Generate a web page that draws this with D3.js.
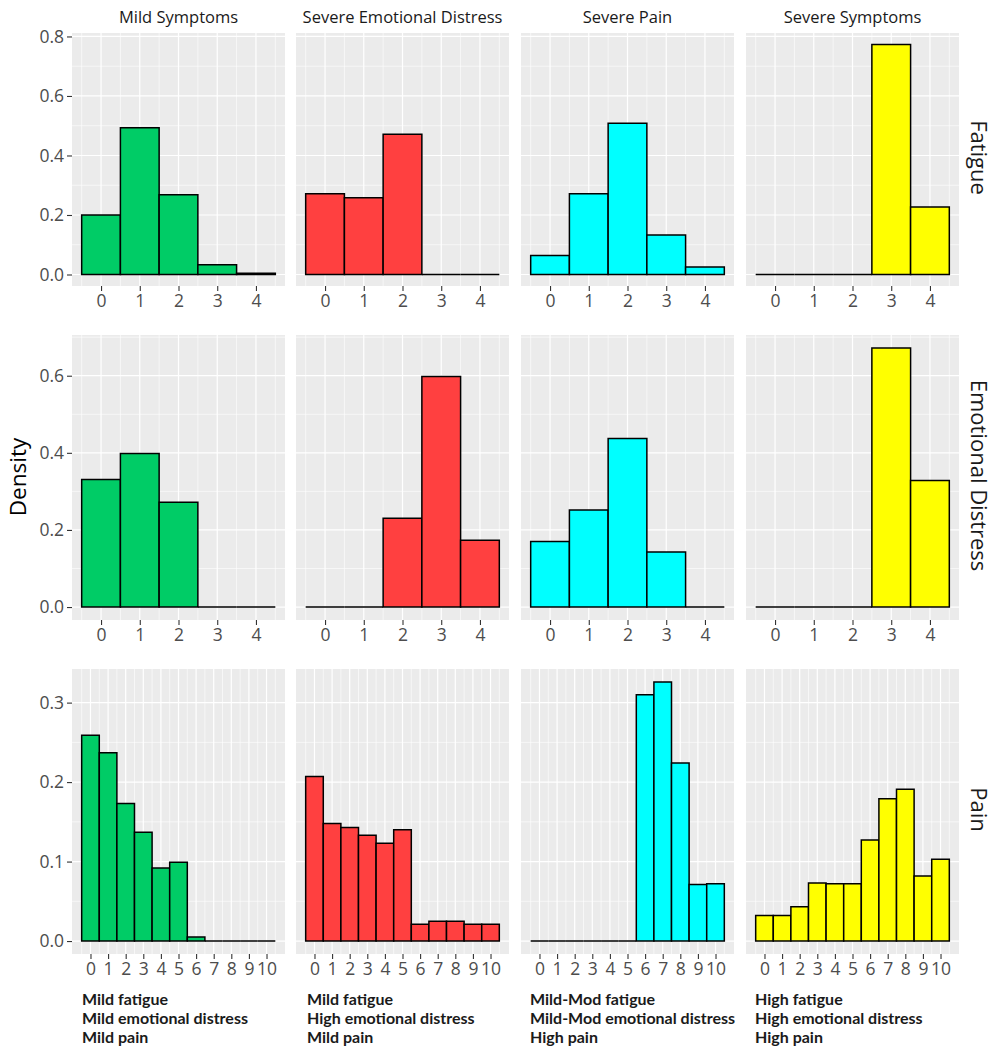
<!DOCTYPE html>
<html><head><meta charset="utf-8">
<script src="https://cdn.jsdelivr.net/npm/d3@7"></script>
<style>body{margin:0;background:#fff}</style>
</head><body><svg id="c" width="997" height="1050"></svg>
<script>
// ---- data ----
const clusters = ["Mild Symptoms", "Severe Emotional Distress", "Severe Pain", "Severe Symptoms"];
const symptoms = ["Fatigue", "Emotional Distress", "Pain"];
const clusterColors = ["#00CC66", "#FF4040", "#00FFFF", "#FFFF00"];
const scoreLevels5 = [0, 1, 2, 3, 4];
const scoreLevels11 = [0, 1, 2, 3, 4, 5, 6, 7, 8, 9, 10];

const fatigueMild      = [0.200, 0.493, 0.268, 0.033, 0.004];
const fatigueEmotional = [0.271, 0.258, 0.471, 0.000, 0.000];
const fatiguePain      = [0.064, 0.271, 0.508, 0.133, 0.025];
const fatigueSevere    = [0.000, 0.000, 0.000, 0.773, 0.227];

const emotionMild      = [0.331, 0.398, 0.272, 0.000, 0.000];
const emotionEmotional = [0.000, 0.000, 0.230, 0.598, 0.173];
const emotionPain      = [0.170, 0.252, 0.437, 0.143, 0.000];
const emotionSevere    = [0.000, 0.000, 0.000, 0.672, 0.328];

const painMild      = [0.259, 0.237, 0.173, 0.137, 0.092, 0.099, 0.005, 0, 0, 0, 0];
const painEmotional = [0.207, 0.148, 0.143, 0.133, 0.123, 0.140, 0.021, 0.025, 0.025, 0.021, 0.021];
const painPain      = [0, 0, 0, 0, 0, 0, 0.310, 0.326, 0.224, 0.071, 0.072];
const painSevere    = [0.032, 0.032, 0.043, 0.073, 0.072, 0.072, 0.127, 0.179, 0.191, 0.082, 0.103];

const yTicksFatigue = [0, 0.2, 0.4, 0.6, 0.8];
const yTicksEmotion = [0, 0.2, 0.4, 0.6];
const yTicksPain    = [0, 0.1, 0.2, 0.3];

const captions = [
  ["Mild fatigue", "Mild emotional distress", "Mild pain"],
  ["Mild fatigue", "High emotional distress", "Mild pain"],
  ["Mild-Mod fatigue", "Mild-Mod emotional distress", "High pain"],
  ["High fatigue", "High emotional distress", "High pain"]
];

const rowsData = [
  {levels: scoreLevels5,  ticks: yTicksFatigue, series: [fatigueMild, fatigueEmotional, fatiguePain, fatigueSevere]},
  {levels: scoreLevels5,  ticks: yTicksEmotion, series: [emotionMild, emotionEmotional, emotionPain, emotionSevere]},
  {levels: scoreLevels11, ticks: yTicksPain,    series: [painMild, painEmotional, painPain, painSevere]}
];

// ---- layout ----
const colX = [72, 296, 521, 746];
const panelW = 213;
const rowBox = [[33, 286], [335, 620], [669, 954]];
const svg = d3.select("#c");
const tickFont = "'Open Sans', 'DejaVu Sans', sans-serif";

rowsData.forEach((row, ri) => {
  const [top, bottom] = rowBox[ri];
  const lo = row.levels[0] - 0.5, hi = row.levels[row.levels.length - 1] + 0.5;
  const xPad = (hi - lo) * 0.05;
  const ymax = d3.max(row.series.flat());
  const y = d3.scaleLinear().domain([-0.05 * ymax, 1.05 * ymax]).range([bottom, top]);
  const step = row.ticks[1] - row.ticks[0];
  const yMinor = d3.range(row.ticks[0] - step / 2, y.domain()[1], step).filter(v => v > y.domain()[0] && v < y.domain()[1]);
  const xMinor = row.levels.map(v => v - 0.5).concat([hi]);

  row.series.forEach((vals, ci) => {
    const x = d3.scaleLinear().domain([lo - xPad, hi + xPad]).range([colX[ci], colX[ci] + panelW]);
    const g = svg.append("g");
    g.append("rect").attr("x", colX[ci]).attr("y", top).attr("width", panelW).attr("height", bottom - top).attr("fill", "#EBEBEB");
    // minor grid
    g.selectAll(".hm").data(yMinor).join("line").attr("x1", colX[ci]).attr("x2", colX[ci] + panelW)
      .attr("y1", d => y(d)).attr("y2", d => y(d)).attr("stroke", "#fff").attr("stroke-width", 0.6);
    g.selectAll(".vm").data(xMinor).join("line").attr("y1", top).attr("y2", bottom)
      .attr("x1", d => x(d)).attr("x2", d => x(d)).attr("stroke", "#fff").attr("stroke-width", 0.6);
    // major grid
    g.selectAll(".hM").data(row.ticks).join("line").attr("x1", colX[ci]).attr("x2", colX[ci] + panelW)
      .attr("y1", d => y(d)).attr("y2", d => y(d)).attr("stroke", "#fff").attr("stroke-width", 1.2);
    g.selectAll(".vM").data(row.levels).join("line").attr("y1", top).attr("y2", bottom)
      .attr("x1", d => x(d)).attr("x2", d => x(d)).attr("stroke", "#fff").attr("stroke-width", 1.2);
    // bars
    g.selectAll(".bar").data(vals.map((v, i) => ({k: row.levels[i], v}))).join("path")
      .attr("d", d => `M${x(d.k - 0.5)},${y(0)}V${y(d.v)}H${x(d.k + 0.5)}V${y(0)}Z`)
      .attr("fill", clusterColors[ci]).attr("stroke", "#000").attr("stroke-width", 1.5);
    // x axis
    const xa = svg.append("g").attr("transform", `translate(0,${bottom})`)
      .call(d3.axisBottom(x).tickValues(row.levels).tickFormat(d3.format("d")).tickSize(5).tickPadding(4));
    xa.select(".domain").remove();
    xa.selectAll("line").attr("stroke", "#333").attr("stroke-width", 1.1);
    xa.selectAll("text").attr("fill", "#4D4D4D").attr("font-family", tickFont).attr("font-size", 17.5);
    // y axis only on first column
    if (ci === 0) {
      const ya = svg.append("g").attr("transform", `translate(${colX[0]},0)`)
        .call(d3.axisLeft(y).tickValues(row.ticks).tickFormat(d3.format(".1f")).tickSize(5).tickPadding(3));
      ya.select(".domain").remove();
      ya.selectAll("line").attr("stroke", "#333").attr("stroke-width", 1.1);
      ya.selectAll("text").attr("fill", "#4D4D4D").attr("font-family", tickFont).attr("font-size", 17.5);
    }
  });
  // right strip label
  svg.append("text").attr("transform", `translate(977,${(top + bottom) / 2 - 2}) rotate(90)`)
    .attr("text-anchor", "middle").attr("dominant-baseline", "middle")
    .attr("font-family", tickFont).attr("font-size", 22).attr("fill", "#1A1A1A").text(symptoms[ri]);
});

// column titles
clusters.forEach((c, ci) => {
  svg.append("text").attr("x", colX[ci] + panelW / 2).attr("y", 23).attr("text-anchor", "middle")
    .attr("font-family", tickFont).attr("font-size", 16.5).attr("fill", "#1A1A1A").text(c);
});

// Density label
svg.append("text").attr("transform", "translate(20,477) rotate(-90)").attr("text-anchor", "middle")
  .attr("dominant-baseline", "middle").attr("font-family", tickFont).attr("font-size", 22.5).attr("fill", "#000").text("Density");

// captions
const capX = [82, 307, 530, 755];
captions.forEach((lines, ci) => {
  lines.forEach((t, li) => {
    svg.append("text").attr("x", capX[ci]).attr("y", 1005 + li * 19)
      .attr("font-family", "Lato, 'Open Sans', sans-serif").attr("font-weight", "bold")
      .attr("font-size", 16).attr("fill", "#1A1A1A").text(t);
  });
});
</script></body></html>
